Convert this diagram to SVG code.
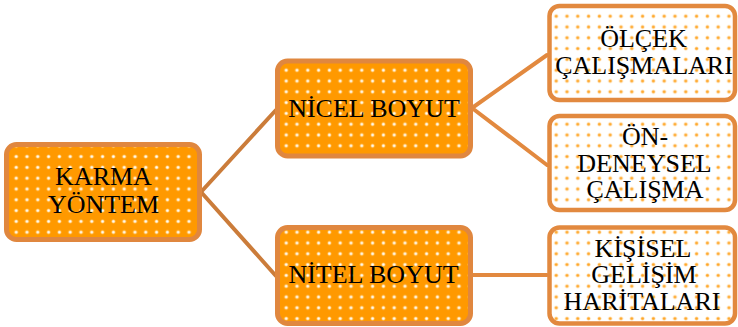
<svg xmlns="http://www.w3.org/2000/svg" width="738" height="327" viewBox="0 0 738 327">
  <style>
    .lbl { font-family: "Liberation Serif", "Times New Roman", serif; font-size: 26px; fill: #000; text-anchor: middle; }
    .solid { fill: url(#dotsOnOrange); stroke: #E0873F; stroke-width: 5; }
    .light { fill: url(#dotsOnWhite); stroke: #E2893F; stroke-width: 4.5; }
    .link-l { stroke: #CB7C3A; stroke-width: 4; fill: none; stroke-linecap: round; }
    .link-r { stroke: #E2893F; stroke-width: 4; fill: none; stroke-linecap: round; }
  </style>
  <defs>
    <!-- white dots on solid orange -->
    <pattern id="dotsOnOrange" patternUnits="userSpaceOnUse" width="10.8" height="10.8">
      <rect width="10.8" height="10.8" fill="#FF9900"/>
      <circle cx="5.4" cy="5.4" r="2" fill="#FFC766"/>
      <circle cx="5.4" cy="5.4" r="1.2" fill="#FFFFFF"/>
    </pattern>
    <!-- orange dots on white -->
    <pattern id="dotsOnWhite" patternUnits="userSpaceOnUse" width="10.8" height="10.8">
      <rect width="10.8" height="10.8" fill="#FFFFFF"/>
      <circle cx="5.4" cy="5.4" r="2" fill="#FFD9A0"/>
      <circle cx="5.4" cy="5.4" r="1.3" fill="#FFA320"/>
    </pattern>
  </defs>

  <g id="connectors">
    <line class="link-l" x1="201" y1="192" x2="276" y2="110"/>
    <line class="link-l" x1="201" y1="192" x2="276" y2="276"/>
    <line class="link-r" x1="472" y1="108" x2="547" y2="55"/>
    <line class="link-r" x1="472" y1="108" x2="547" y2="165"/>
    <line class="link-r" x1="472" y1="275" x2="547" y2="275"/>
  </g>

  <g id="karma-yontem">
    <rect class="solid" x="6.5" y="144.5" width="193" height="95" rx="10"/>
    <text class="lbl" x="103.5" y="185">KARMA</text>
    <text class="lbl" x="103.5" y="213">YÖNTEM</text>
  </g>

  <g id="nicel-boyut">
    <rect class="solid" x="277.5" y="61" width="193" height="95" rx="10"/>
    <text class="lbl" x="374" y="117">NİCEL BOYUT</text>
  </g>

  <g id="nitel-boyut">
    <rect class="solid" x="277.5" y="227.5" width="193" height="96" rx="10"/>
    <text class="lbl" x="373.5" y="283">NİTEL BOYUT</text>
  </g>

  <g id="olcek-calismalari">
    <rect class="light" x="549.5" y="6" width="185.5" height="94" rx="10"/>
    <text class="lbl" x="643.5" y="47">ÖLÇEK</text>
    <text class="lbl" x="644" y="73.5">ÇALIŞMALARI</text>
  </g>

  <g id="on-deneysel-calisma">
    <rect class="light" x="549.5" y="116" width="185.5" height="94" rx="10"/>
    <text class="lbl" x="645" y="145">ÖN-</text>
    <text class="lbl" x="644.5" y="171.5">DENEYSEL</text>
    <text class="lbl" x="645" y="198">ÇALIŞMA</text>
  </g>

  <g id="kisisel-gelisim-haritalari">
    <rect class="light" x="549.5" y="227.5" width="185.5" height="96" rx="10"/>
    <text class="lbl" x="643" y="256.5">KİŞİSEL</text>
    <text class="lbl" x="644" y="283">GELİŞİM</text>
    <text class="lbl" x="642" y="310">HARİTALARI</text>
  </g>
</svg>
